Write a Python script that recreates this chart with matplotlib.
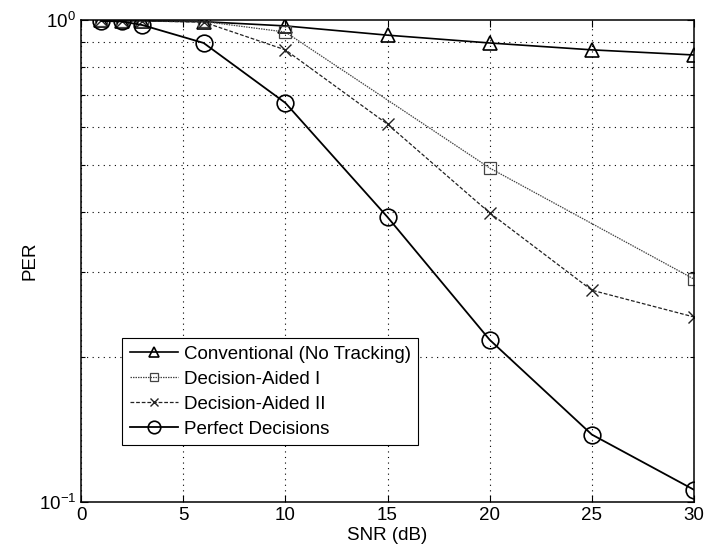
import matplotlib
matplotlib.use("Agg")
import matplotlib.pyplot as plt
from matplotlib.ticker import LogLocator, NullFormatter, FixedLocator

plt.rcParams["font.family"] = ["Liberation Sans", "DejaVu Sans"]
plt.rcParams["mathtext.fontset"] = "custom"
plt.rcParams["mathtext.rm"] = "Liberation Sans"
plt.rcParams["mathtext.it"] = "Liberation Sans:italic"

# PER vs SNR for the four receiver variants
snr_full = [1, 2, 3, 6, 10, 15, 20, 25, 30]
per_conventional = [0.998, 0.997, 0.996, 0.992, 0.972, 0.930, 0.896, 0.867, 0.846]
per_perfect = [0.995, 0.993, 0.976, 0.896, 0.673, 0.390, 0.217, 0.138, 0.106]
per_da2 = [0.998, 0.997, 0.995, 0.990, 0.867, 0.608, 0.398, 0.275, 0.242]

snr_da1 = [1, 2, 3, 6, 10, 20, 30]
per_da1 = [0.998, 0.997, 0.996, 0.993, 0.944, 0.493, 0.290]

x_ticks = [0, 5, 10, 15, 20, 25, 30]

fig = plt.figure(figsize=(7.07, 5.58), dpi=100)
ax = fig.add_axes([0.1146, 0.1004, 0.867, 0.8638])

fs = 13.5
ax.semilogy(snr_full, per_conventional, color="black", lw=1.2, ls="-",
            marker="^", ms=10, mfc="none", mec="black", mew=1.2,
            label="Conventional (No Tracking)")
ax.semilogy(snr_da1, per_da1, color="#444444", lw=0.9, ls=(0, (1.2, 0.8)),
            marker="s", ms=8, mfc="none", mec="#444444", mew=0.9,
            label="Decision-Aided I")
ax.semilogy(snr_full, per_da2, color="#222222", lw=0.9, ls=(0, (3, 1.5)),
            marker="x", ms=8, mec="#222222", mew=1.0,
            label="Decision-Aided II")
ax.semilogy(snr_full, per_perfect, color="black", lw=1.3, ls="-",
            marker="o", ms=12, mfc="none", mec="black", mew=1.2,
            label="Perfect Decisions")

ax.set_xlim(0, 30)
ax.set_ylim(0.1, 1.0)
ax.xaxis.set_major_locator(FixedLocator(x_ticks))
ax.yaxis.set_major_locator(LogLocator(base=10, numticks=5))
ax.yaxis.set_minor_locator(LogLocator(base=10, subs=[0.2, 0.3, 0.4, 0.5, 0.6, 0.7, 0.8, 0.9], numticks=5))
ax.yaxis.set_minor_formatter(NullFormatter())

ax.grid(True, which="major", axis="x", color="black", ls=(0, (1, 4)), lw=0.8)
ax.grid(True, which="minor", axis="y", color="black", ls=(0, (1, 4)), lw=0.8)

ax.tick_params(which="both", direction="in", top=True, right=True, labelsize=fs)
ax.tick_params(which="major", length=5, width=0.8)
ax.tick_params(which="minor", length=3, width=0.8)
for s in ax.spines.values():
    s.set_linewidth(1.1)

ax.set_xlabel("SNR (dB)", fontsize=fs, labelpad=2)
ax.set_ylabel("PER", fontsize=fs, labelpad=0)

leg = ax.legend(loc="lower left", bbox_to_anchor=(0.067, 0.118), fontsize=fs,
                frameon=True, fancybox=False, framealpha=1, edgecolor="black",
                handlelength=2.6, handletextpad=0.3, borderpad=0.4,
                labelspacing=0.42, borderaxespad=0, markerscale=0.75)
leg.get_frame().set_linewidth(0.8)

fig.savefig("out.png", dpi=100)
